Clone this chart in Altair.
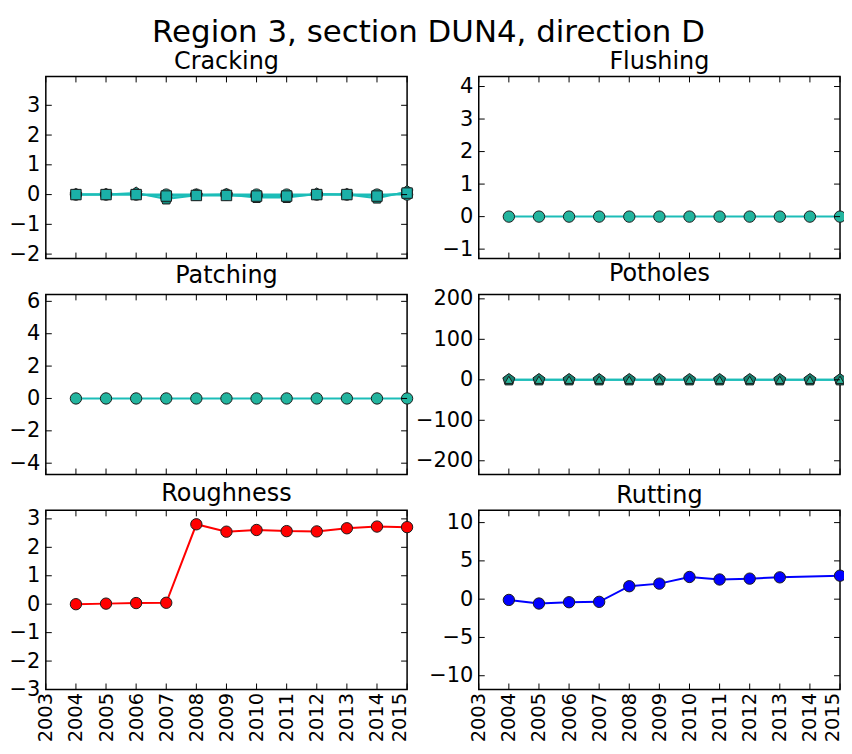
import altair as alt
import pandas as pd

# ---------------- data ----------------
years = [2004, 2005, 2006, 2007, 2008, 2009, 2010, 2011, 2012, 2013, 2014, 2015]
x_ticks = [2003, 2004, 2005, 2006, 2007, 2008, 2009, 2010, 2011, 2012, 2013, 2014, 2015]

cracking_circle = [0, 0, 0, 0, 0, 0, 0, 0, 0, 0, 0, 0]
cracking_pent = [0.0, 0.0, 0.05, -0.15, -0.02, 0.0, -0.1, -0.1, 0.02, 0.0, -0.12, 0.1]
cracking_square = [0.0, 0.0, 0.0, -0.05, -0.03, -0.03, -0.05, -0.05, 0.0, 0.0, -0.05, 0.05]

flushing = [0, 0, 0, 0, 0, 0, 0, 0, 0, 0, 0, 0]
patching = [0, 0, 0, 0, 0, 0, 0, 0, 0, 0, 0, 0]
potholes_pent = [0, 0, 0, 0, 0, 0, 0, 0, 0, 0, 0, 0]
potholes_tri = [0, 0, 0, 0, 0, 0, 0, 0, 0, 0, 0, 0]

roughness = [0.0, 0.02, 0.04, 0.05, 2.81, 2.55, 2.61, 2.57, 2.56, 2.67, 2.73, 2.71]
rutting = [-0.1, -0.57, -0.4, -0.35, 1.69, 2.03, 2.9, 2.57, 2.68, 2.85, None, 3.07]

# y axis settings per panel
cracking_dom, cracking_ticks = [-2.15, 3.97], [-2, -1, 0, 1, 2, 3]
flushing_dom, flushing_ticks = [-1.29, 4.31], [-1, 0, 1, 2, 3, 4]
patching_dom, patching_ticks = [-4.7, 6.43], [-4, -2, 0, 2, 4, 6]
potholes_dom, potholes_ticks = [-234, 211], [-200, -100, 0, 100, 200]
roughness_dom, roughness_ticks = [-3, 3.3], [-3, -2, -1, 0, 1, 2, 3]
rutting_dom, rutting_ticks = [-11.8, 11.6], [-10, -5, 0, 5, 10]

PENT = "M0,-1L0.951,-0.309L0.588,0.809L-0.588,0.809L-0.951,-0.309Z"
TEAL_LINE = "#1CBDB8"
FONT = "DejaVu Sans"
W = 363


def make_panel(title, series, ydom, yticks, line_color, bottom, H):
    frames = []
    for name, vals, shape, fill, size in series:
        rows = [{"year": yr, "value": v} for yr, v in zip(years, vals) if v is not None]
        frames.append((pd.DataFrame(rows), shape, fill, size))

    xscale = alt.Scale(domain=[2003, 2015], nice=False, zero=False)
    yscale = alt.Scale(domain=ydom, nice=False, zero=False)
    xaxis = alt.Axis(values=x_ticks, format="d", labelAngle=270, labels=bottom,
                     ticks=False, domain=False, grid=False, labelFlush=False,
                     labelOverlap=False, labelFontSize=19.5, labelFont=FONT,
                     labelColor="black", labelPadding=3, title=None,
                     labelOffset=alt.condition("datum.value == 2015",
                                               alt.value(-8), alt.value(0)))
    yaxis = alt.Axis(values=yticks, ticks=False, domain=False, grid=False,
                     labelOverlap=False, labelFlush=False, labelFontSize=21,
                     labelFont=FONT, labelColor="black", labelPadding=6,
                     title=None)

    def X():
        return alt.X("year:Q", scale=xscale, axis=xaxis)

    def Y():
        return alt.Y("value:Q", scale=yscale, axis=yaxis)

    layers = []
    for df, shape, fill, size in frames:
        layers.append(alt.Chart(df).mark_line(color=line_color, strokeWidth=2).encode(
            x=X(), y=Y()))
    for df, shape, fill, size in frames:
        layers.append(alt.Chart(df).mark_point(
            filled=True, opacity=1, shape=shape, fill=fill, size=size,
            stroke="#1b1b1b", strokeWidth=1).encode(x=X(), y=Y()))

    ytdf = pd.DataFrame({"value": yticks})
    xtdf = pd.DataFrame({"year": x_ticks})
    layers.append(alt.Chart(ytdf).mark_rule(color="black", strokeWidth=1).encode(
        y=Y(), x=alt.value(0), x2=alt.value(6)))
    layers.append(alt.Chart(ytdf).mark_rule(color="black", strokeWidth=1).encode(
        y=Y(), x=alt.value(W - 6), x2=alt.value(W)))
    layers.append(alt.Chart(xtdf).mark_rule(color="black", strokeWidth=1).encode(
        x=X(), y=alt.value(H - 6), y2=alt.value(H)))
    layers.append(alt.Chart(xtdf).mark_rule(color="black", strokeWidth=1).encode(
        x=X(), y=alt.value(0), y2=alt.value(6)))

    return alt.layer(*layers).properties(
        width=W, height=H,
        title=alt.TitleParams(title, fontSize=24, font=FONT, fontWeight="normal",
                              offset=2, anchor="middle", color="black"),
    )


p_crack = make_panel("Cracking", [
    ("c1", cracking_circle, "circle", "#1FB3A2", 130),
    ("c2", cracking_pent, PENT, "#178F80", 150),
    ("c3", cracking_square, "square", "#1BB0A8", 110),
], cracking_dom, cracking_ticks, TEAL_LINE, False, 183)

p_flush = make_panel("Flushing", [
    ("f1", flushing, "circle", "#22B49E", 130),
], flushing_dom, flushing_ticks, TEAL_LINE, False, 183)

p_patch = make_panel("Patching", [
    ("pa1", patching, "circle", "#22B49E", 130),
], patching_dom, patching_ticks, TEAL_LINE, False, 181)

p_pot = make_panel("Potholes", [
    ("po1", potholes_pent, PENT, "#17806F", 160),
    ("po2", potholes_tri, "triangle-up", "#2AB59A", 70),
], potholes_dom, potholes_ticks, TEAL_LINE, False, 181)

p_rough = make_panel("Roughness", [
    ("r1", roughness, "circle", "#FF0000", 130),
], roughness_dom, roughness_ticks, "#FF0000", True, 180)

p_rut = make_panel("Rutting", [
    ("u1", rutting, "circle", "#0000FF", 130),
], rutting_dom, rutting_ticks, "#0000FF", True, 180)

chart = alt.concat(
    p_crack, p_flush, p_patch, p_pot, p_rough, p_rut,
    columns=2,
    spacing={"row": 36, "column": 72},
    bounds="flush",
).properties(
    title=alt.TitleParams("Region 3, section DUN4, direction D", fontSize=31,
                          font=FONT, fontWeight="normal", anchor="middle",
                          color="black", offset=0),
    padding={"left": 0, "top": 7, "right": -5, "bottom": 0},
    background="white",
).configure_view(
    stroke="black", strokeWidth=1.5
).configure_axis(
    labelOverlap=False, labelFlush=False
)

chart.save("out.html", embed_options={"renderer": "svg", "actions": False})
